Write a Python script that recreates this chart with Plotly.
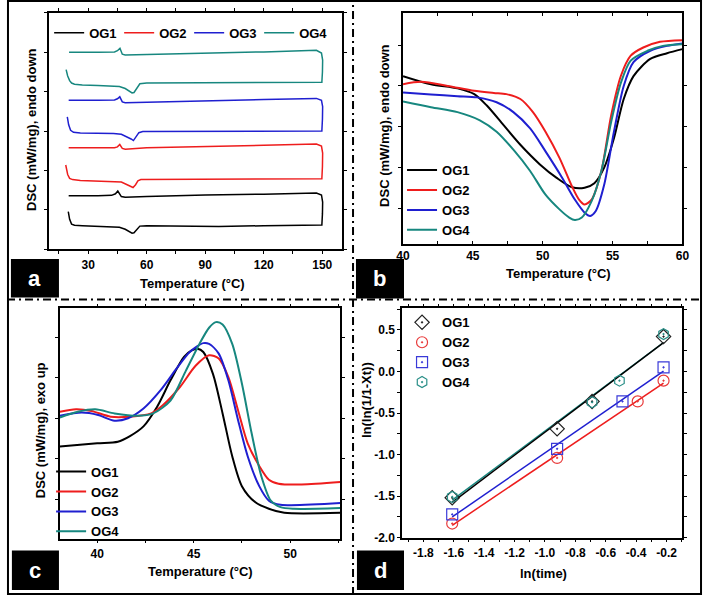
import numpy as np
import plotly.graph_objects as go

W, H = 709, 602

SERIES = ["OG1", "OG2", "OG3", "OG4"]
COLORS = ["#000000", "#ee1d1d", "#1f1fd0", "#17877f"]

# ---------------- panel a : full DSC loops (heating then cooling) ----------------
a_OG1_heat_T = [19.8, 20.5, 21.5, 23, 27, 35, 43, 46, 49, 51, 52.5, 53.5, 55, 56.5, 60, 90, 97, 120, 149.8]
a_OG1_heat_y = [0.98, 0.88, 0.82, 0.805, 0.80, 0.795, 0.79, 0.78, 0.755, 0.73, 0.705, 0.71, 0.76, 0.795, 0.80, 0.795, 0.79, 0.80, 0.81]
a_OG1_cool_T = [150.1, 150.2, 149.6, 147, 120, 90, 60, 49, 47, 45.2, 44, 42, 35, 20]
a_OG1_cool_y = [0.95, 1.10, 1.19, 1.215, 1.20, 1.19, 1.17, 1.16, 1.17, 1.24, 1.205, 1.185, 1.18, 1.18]

a_OG2_heat_T = [18.5, 19.5, 20.5, 22, 26, 35, 43, 47, 50, 52, 53.0, 54.3, 55.5, 57, 90, 120, 149.8]
a_OG2_heat_y = [1.57, 1.45, 1.40, 1.385, 1.375, 1.37, 1.365, 1.355, 1.32, 1.295, 1.285, 1.32, 1.37, 1.385, 1.39, 1.39, 1.395]
a_OG2_cool_T = [150.1, 150.2, 149.6, 147, 120, 90, 60, 49, 47.5, 46.2, 45, 43.5, 35, 20]
a_OG2_cool_y = [1.55, 1.72, 1.81, 1.835, 1.82, 1.805, 1.79, 1.77, 1.78, 1.83, 1.80, 1.79, 1.79, 1.79]

a_OG3_heat_T = [19.3, 20.0, 21.0, 22.5, 26, 35, 43, 47, 50, 52, 53.2, 54.5, 56, 58, 90, 120, 149.8]
a_OG3_heat_y = [2.18, 2.08, 2.01, 1.985, 1.975, 1.975, 1.97, 1.96, 1.93, 1.90, 1.88, 1.92, 1.98, 1.995, 1.995, 1.995, 2.0]
a_OG3_cool_T = [150.1, 150.2, 149.6, 147, 120, 90, 60, 49, 47.5, 46.2, 45, 43.5, 35, 20]
a_OG3_cool_y = [2.15, 2.31, 2.39, 2.415, 2.40, 2.385, 2.37, 2.36, 2.37, 2.435, 2.41, 2.395, 2.39, 2.39]

a_OG4_heat_T = [18.7, 19.5, 20.5, 21.5, 23, 27, 35, 42, 46, 49, 51, 52.5, 53.5, 55, 56.5, 60, 90, 120, 149.8]
a_OG4_heat_y = [2.78, 2.70, 2.64, 2.61, 2.595, 2.585, 2.58, 2.575, 2.565, 2.54, 2.51, 2.485, 2.49, 2.55, 2.60, 2.61, 2.615, 2.615, 2.62]
a_OG4_cool_T = [150.1, 150.2, 149.6, 147, 120, 90, 60, 49, 47.5, 46.3, 45, 43.5, 35, 20.2]
a_OG4_cool_y = [2.75, 2.90, 2.99, 3.025, 3.005, 2.985, 2.97, 2.965, 2.975, 3.05, 3.02, 3.005, 3.0, 3.0]

# ---------------- panel b : heating endotherms ----------------
b_OG1_T = [40, 42.0, 43.9, 45.1, 46.0, 47.2, 48.4, 49.8, 51.0, 52.1, 53.0, 53.7, 54.4, 55.1, 55.8, 56.5, 57.7, 58.9, 60]
b_OG1_y = [2.62, 2.52, 2.47, 2.40, 2.26, 2.02, 1.78, 1.54, 1.375, 1.26, 1.254, 1.31, 1.50, 1.86, 2.34, 2.62, 2.83, 2.90, 2.95]
b_OG2_T = [40, 41.3, 43.2, 45.1, 46.5, 47.4, 48.4, 49.3, 50.2, 51.2, 52.1, 52.6, 53.0, 53.5, 54.2, 54.9, 55.6, 56.3, 57.2, 58.4, 60]
b_OG2_y = [2.52, 2.55, 2.50, 2.44, 2.415, 2.40, 2.34, 2.18, 1.94, 1.62, 1.27, 1.11, 1.05, 1.11, 1.46, 2.14, 2.625, 2.87, 2.97, 3.04, 3.06]
b_OG3_T = [40, 42.0, 43.9, 45.3, 46.7, 47.9, 49.1, 50.2, 51.4, 52.3, 53.0, 53.4, 53.8, 54.4, 55.1, 55.8, 56.5, 57.7, 58.9, 60]
b_OG3_y = [2.42, 2.395, 2.375, 2.36, 2.30, 2.18, 1.98, 1.70, 1.375, 1.11, 0.95, 0.91, 0.97, 1.29, 1.94, 2.50, 2.79, 2.93, 2.99, 3.02]
b_OG4_T = [40, 42.0, 43.9, 45.5, 46.7, 47.9, 49.1, 50.2, 51.2, 51.9, 52.3, 52.8, 53.5, 54.2, 54.9, 55.6, 56.3, 57.5, 58.6, 60]
b_OG4_y = [2.31, 2.24, 2.18, 2.08, 1.94, 1.72, 1.46, 1.17, 0.99, 0.89, 0.86, 0.89, 1.09, 1.46, 2.06, 2.54, 2.81, 2.93, 2.99, 3.01]

# ---------------- panel c : cooling exotherms ----------------
c_OG1_T = [38.07, 40, 41.07, 41.7, 42.4, 43.1, 43.8, 44.5, 44.9, 45.2, 45.5, 46.0, 46.5, 47.0, 47.5, 48.2, 48.9, 49.7, 52.6]
c_OG1_y = [1.65, 1.69, 1.71, 1.78, 1.90, 2.14, 2.47, 2.76, 2.84, 2.86, 2.82, 2.55, 2.06, 1.53, 1.16, 0.96, 0.88, 0.83, 0.83]
c_OG2_T = [38.07, 38.9, 39.7, 40.7, 41.7, 42.8, 43.4, 44.3, 45.1, 45.8, 46.3, 46.8, 47.3, 47.8, 48.4, 48.9, 49.4, 50.6, 52.6]
c_OG2_y = [2.08, 2.11, 2.09, 2.02, 2.02, 2.06, 2.16, 2.39, 2.65, 2.78, 2.74, 2.51, 2.10, 1.69, 1.41, 1.24, 1.19, 1.18, 1.21]
c_OG3_T = [38.07, 39.2, 40.05, 40.9, 41.6, 42.4, 43.3, 44.1, 44.8, 45.5, 45.8, 46.3, 46.8, 47.3, 47.8, 48.4, 48.9, 49.5, 52.6]
c_OG3_y = [2.03, 2.07, 2.04, 1.97, 2.0, 2.12, 2.35, 2.61, 2.82, 2.93, 2.92, 2.80, 2.47, 1.98, 1.53, 1.16, 0.98, 0.93, 0.95]
c_OG4_T = [38.07, 39.0, 39.9, 40.9, 42.1, 42.9, 43.8, 44.6, 45.3, 45.8, 46.15, 46.5, 47.0, 47.5, 48.0, 48.5, 49.0, 49.5, 50.2, 52.6]
c_OG4_y = [2.01, 2.08, 2.11, 2.06, 2.03, 2.06, 2.22, 2.59, 2.92, 3.12, 3.19, 3.16, 2.92, 2.43, 1.82, 1.29, 0.98, 0.90, 0.88, 0.89]

# ---------------- panel d : Avrami plot ----------------
d_OG1_x = [-1.61, -0.92, -0.69, -0.22]
d_OG1_y = [-1.52, -0.69, -0.36, 0.42]
d_OG2_x = [-1.61, -0.92, -0.39, -0.22]
d_OG2_y = [-1.83, -1.04, -0.36, -0.11]
d_OG3_x = [-1.61, -0.92, -0.49, -0.22]
d_OG3_y = [-1.72, -0.93, -0.36, 0.05]
d_OG4_x = [-1.61, -0.69, -0.51, -0.22]
d_OG4_y = [-1.51, -0.37, -0.11, 0.45]
d_symbols = ["diamond-open-dot", "circle-open-dot", "square-open-dot", "hexagon-open-dot"]
d_marker_colors = ["#222222", "#e83a3a", "#3a3ad8", "#2a8f88"]

d_xticks = [-1.8, -1.6, -1.4, -1.2, -1.0, -0.8, -0.6, -0.4, -0.2]
d_xtick_text = ["-1.8", "-1.6", "-1.4", "-1.2", "-1.0", "-0.8", "-0.6", "-0.4", "-0.2"]
d_yticks = [-2.0, -1.5, -1.0, -0.5, 0.0, 0.5]
d_ytick_text = ["-2.0", "-1.5", "-1.0", "-0.5", "0.0", "0.5"]


def fx(p):
    return p / W


def fy(p):
    return 1 - p / H


FONT = "Liberation Sans, Arial, sans-serif"
fig = go.Figure()

a_data = [(a_OG1_heat_T, a_OG1_heat_y, a_OG1_cool_T, a_OG1_cool_y),
          (a_OG2_heat_T, a_OG2_heat_y, a_OG2_cool_T, a_OG2_cool_y),
          (a_OG3_heat_T, a_OG3_heat_y, a_OG3_cool_T, a_OG3_cool_y),
          (a_OG4_heat_T, a_OG4_heat_y, a_OG4_cool_T, a_OG4_cool_y)]
for name, col, (hT, hy, cT, cy) in zip(SERIES, COLORS, a_data):
    fig.add_trace(go.Scatter(x=hT + cT, y=hy + cy, mode="lines", name=name,
                             line=dict(color=col, width=1.5), xaxis="x", yaxis="y",
                             legend="legend"))

b_data = [(b_OG1_T, b_OG1_y), (b_OG2_T, b_OG2_y), (b_OG3_T, b_OG3_y), (b_OG4_T, b_OG4_y)]
for name, col, (T, y) in zip(SERIES, COLORS, b_data):
    fig.add_trace(go.Scatter(x=T, y=y, mode="lines", name=name,
                             line=dict(color=col, width=2, shape="spline", smoothing=0.8),
                             xaxis="x2", yaxis="y2", legend="legend2"))

c_data = [(c_OG1_T, c_OG1_y), (c_OG2_T, c_OG2_y), (c_OG3_T, c_OG3_y), (c_OG4_T, c_OG4_y)]
for name, col, (T, y) in zip(SERIES, COLORS, c_data):
    fig.add_trace(go.Scatter(x=T, y=y, mode="lines", name=name,
                             line=dict(color=col, width=2, shape="spline", smoothing=0.8),
                             xaxis="x3", yaxis="y3", legend="legend3"))

d_data = [(d_OG1_x, d_OG1_y), (d_OG2_x, d_OG2_y), (d_OG3_x, d_OG3_y), (d_OG4_x, d_OG4_y)]
line_order = [1, 2, 3, 0]
for i in line_order:
    xs, ys = d_data[i]
    k, b0 = np.polyfit(xs, ys, 1)
    xl = np.array([min(xs), max(xs)])
    fig.add_trace(go.Scatter(x=xl, y=k * xl + b0, mode="lines", showlegend=False,
                             line=dict(color=COLORS[i], width=1.5),
                             xaxis="x4", yaxis="y4", hoverinfo="skip"))
for i in range(4):
    xs, ys = d_data[i]
    fig.add_trace(go.Scatter(x=xs, y=ys, mode="markers", name=SERIES[i],
                             marker=dict(symbol=d_symbols[i], size=11, color=d_marker_colors[i],
                                         line=dict(color=d_marker_colors[i], width=1.2)),
                             xaxis="x4", yaxis="y4", legend="legend4"))

tickfont = dict(family=FONT, size=12, color="black", weight="bold")


def axis(domain, rng, **kw):
    d = dict(domain=domain, range=rng, showline=True, linecolor="black", linewidth=1.5,
             mirror="ticks", ticks="outside", ticklen=3, tickwidth=1.2, tickcolor="black",
             showgrid=False, zeroline=False, tickfont=tickfont)
    d.update(kw)
    return d


def minor(dt, where="outside"):
    return dict(dtick=dt, tick0=0, ticks=where, ticklen=3, tickwidth=1.2, tickcolor="black", showgrid=False)


layout = dict(
    width=W, height=H, autosize=False,
    margin=dict(l=0, r=0, t=0, b=0),
    paper_bgcolor="white", plot_bgcolor="white",
    xaxis=axis([fx(43), fx(341.5)], [10, 160], anchor="y", tick0=0, dtick=30, minor=minor(15)),
    yaxis=axis([fy(252.3), fy(13)], [0.5, 3.5], anchor="x", tick0=0, dtick=1, minor=minor(0.5),
               showticklabels=False),
    xaxis2=axis([fx(404), fx(689)], [40, 60], anchor="y2", tick0=0, dtick=5, minor=minor(2.5, "inside"),
                ticks="inside"),
    yaxis2=axis([fy(247), fy(13)], [0.565, 3.394], anchor="x2", tick0=0, dtick=1, minor=minor(0.5),
                showticklabels=False),
    xaxis3=axis([fx(54), fx(340)], [38.07, 52.6], anchor="y3", tick0=0, dtick=5, minor=minor(2.5)),
    yaxis3=axis([fy(545), fy(312)], [0.51, 3.36], anchor="x3", tick0=0, dtick=1, minor=minor(0.5),
                showticklabels=False),
    xaxis4=axis([fx(403), fx(689)], [-1.94, -0.096], anchor="y4", tickmode="array",
                tickvals=d_xticks, ticktext=d_xtick_text, minor=minor(0.1)),
    yaxis4=axis([fy(544), fy(312)], [-2.0, 0.76], anchor="x4", tickmode="array",
                tickvals=d_yticks, ticktext=d_ytick_text, minor=minor(0.25)),
    showlegend=True,
)

legfont = dict(family=FONT, size=13, color="black", weight="bold")
layout["legend"] = dict(x=fx(43), y=fy(18), xanchor="left", yanchor="top", orientation="h",
                        font=legfont, bgcolor="rgba(0,0,0,0)", entrywidth=25, entrywidthmode="pixels")
layout["legend2"] = dict(x=fx(403), y=fy(157), xanchor="left", yanchor="top",
                         font=legfont, bgcolor="rgba(0,0,0,0)")
layout["legend3"] = dict(x=fx(45), y=fy(462), xanchor="left", yanchor="top",
                         font=legfont, bgcolor="rgba(0,0,0,0)")
layout["legend4"] = dict(x=fx(403), y=fy(311), xanchor="left", yanchor="top",
                         font=legfont, bgcolor="rgba(0,0,0,0)")

shapes = []
# outer border
shapes.append(dict(type="rect", xref="paper", yref="paper", x0=fx(1), x1=fx(708), y0=fy(601), y1=fy(1),
                   line=dict(color="black", width=2)))
# dividers
dd = "8px,4px,2px,4px"
shapes.append(dict(type="line", xref="paper", yref="paper", x0=fx(353), x1=fx(353), y0=0, y1=1,
                   line=dict(color="black", width=2, dash=dd)))
shapes.append(dict(type="line", xref="paper", yref="paper", x0=0, x1=1, y0=fy(303), y1=fy(303),
                   line=dict(color="black", width=2, dash=dd)))
# letter boxes
boxes = [("a", 4, 53, 262, 301), ("b", 356, 405, 262, 302), ("c", 5, 53, 557, 597), ("d", 357, 405, 557, 597)]
annotations = []
for letter, x0, x1, y0, y1 in boxes:
    shapes.append(dict(type="rect", xref="paper", yref="paper", x0=fx(x0), x1=fx(x1), y0=fy(y1), y1=fy(y0),
                       fillcolor="black", line=dict(color="black", width=0)))
    annotations.append(dict(text=letter, xref="paper", yref="paper", x=fx((x0 + x1) / 2), y=fy((y0 + y1) / 2),
                            showarrow=False, xanchor="center", yanchor="middle",
                            font=dict(family=FONT, size=22, color="white", weight="bold")))

titlefont = dict(family=FONT, size=13, color="black", weight="bold")
titles = [
    ("Temperature (°C)", 189, 287, 0),
    ("DSC (mW/mg), endo down", 25, 131, -90),
    ("Temperature (°C)", 563, 277, 0),
    ("DSC (mW/mg), endo down", 385, 127, -90),
    ("Temperature (°C)", 197, 578, 0),
    ("DSC (mW/mg), exo up", 35, 435, -90),
    ("ln(time)", 547, 580, 0),
    ("ln(ln(1/1-Xt))", 367, 405, -90),
]
for t, x, y, ang in titles:
    annotations.append(dict(text=t, xref="paper", yref="paper", x=fx(x), y=fy(y), showarrow=False,
                            xanchor="center", yanchor="middle", textangle=ang, font=titlefont))

layout["shapes"] = shapes
layout["annotations"] = annotations
fig.update_layout(**layout)
fig.write_html("out.html", config={"displayModeBar": False},
               post_script="document.body.style.margin='0';")
